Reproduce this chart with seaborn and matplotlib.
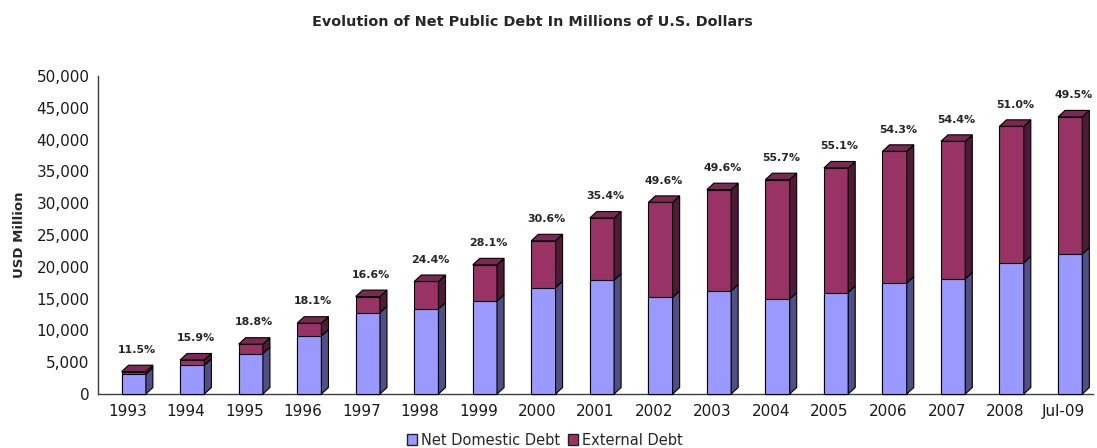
import numpy as np
import pandas as pd
import matplotlib
matplotlib.use("Agg")
import matplotlib.pyplot as plt
from matplotlib.patches import Polygon, Patch
from matplotlib.ticker import FuncFormatter, MultipleLocator
import seaborn as sns

# Net public debt, USD million
periods = ["1993", "1994", "1995", "1996", "1997", "1998", "1999", "2000", "2001",
           "2002", "2003", "2004", "2005", "2006", "2007", "2008", "Jul-09"]
total_debt = [3510, 5350, 7830, 11130, 15320, 17690, 20310, 24090, 27670,
              30130, 32130, 33700, 35540, 38160, 39730, 42090, 43570]
# share of external debt in the total, percent
external_share = [11.5, 15.9, 18.8, 18.1, 16.6, 24.4, 28.1, 30.6, 35.4,
                  49.6, 49.6, 55.7, 55.1, 54.3, 54.4, 51.0, 49.5]

df = pd.DataFrame({"period": periods, "total": total_debt, "share": external_share})
df["domestic"] = df["total"] * (1 - df["share"] / 100.0)
df["external"] = df["total"] - df["domestic"]

DOM = "#9999FF"
DOM_SIDE = "#4F4F86"
EXT = "#993366"
EXT_SIDE = "#4F1A35"
EXT_TOP = "#7A2952"
EDGE = "black"

sns.set_style("white")
plt.rcParams["font.family"] = ["DejaVu Sans"]

fig = plt.figure(figsize=(10.97, 4.48), dpi=100)
ax = fig.add_axes([98 / 1097, 54 / 448, (1093 - 98) / 1097, 318 / 448])

BAR_W = 0.415
SHIFT = 0.11          # front face sits slightly right of the category centre
DX, DY = 0.12, 1020   # depth of the pseudo-3D extrusion (x units, y units)

sns.barplot(data=df, x="period", y="total", color=EXT, saturation=1, width=BAR_W,
            edgecolor=EDGE, linewidth=0.8, errorbar=None, ax=ax, zorder=3)
sns.barplot(data=df, x="period", y="domestic", color=DOM, saturation=1, width=BAR_W,
            edgecolor=EDGE, linewidth=0.8, errorbar=None, ax=ax, zorder=3)

n = len(periods)
tot_bars = ax.patches[:n]
dom_bars = ax.patches[n:2 * n]
for p in ax.patches[:2 * n]:
    p.set_x(p.get_x() + SHIFT)
    p.set_clip_on(False)

for i, (tb, db) in enumerate(zip(tot_bars, dom_bars)):
    x, w = tb.get_x(), tb.get_width()
    ht, hd = tb.get_height(), db.get_height()
    faces = [
        ([(x + w, 0), (x + w + DX, DY), (x + w + DX, hd + DY), (x + w, hd)], DOM_SIDE),
        ([(x + w, hd), (x + w + DX, hd + DY), (x + w + DX, ht + DY), (x + w, ht)], EXT_SIDE),
        ([(x, ht), (x + DX, ht + DY), (x + w + DX, ht + DY), (x + w, ht)], EXT_TOP),
    ]
    for pts, col in faces:
        ax.add_patch(Polygon(pts, closed=True, facecolor=col, edgecolor=EDGE,
                             linewidth=0.8, zorder=3, clip_on=False))
    ax.annotate(f"{external_share[i]:.1f}%", (x + w / 2 + DX / 2, ht),
                xytext=(0, 13.5), textcoords="offset points", ha="center",
                va="baseline", fontsize=7.9, fontweight="bold", annotation_clip=False)

ax.set_xlim(-0.5, n - 0.5)
ax.set_ylim(0, 50000)
ax.yaxis.set_major_locator(MultipleLocator(5000))
ax.yaxis.set_major_formatter(FuncFormatter(lambda v, _: f"{int(v):,}"))
ax.set_xticks(np.arange(-0.5, n, 1.0), minor=True)
ax.tick_params(axis="x", which="major", length=0, pad=7, labelsize=11)
ax.tick_params(axis="x", which="minor", length=5, width=1, direction="out", color="#404040")
ax.tick_params(axis="y", which="major", length=4, width=1, direction="out", pad=2,
               labelsize=11, color="#404040")
ax.tick_params(axis="both", labelcolor="#1a1a1a")

for side in ("top", "right"):
    ax.spines[side].set_visible(False)
for side in ("left", "bottom"):
    ax.spines[side].set_color("#404040")
    ax.spines[side].set_linewidth(1)

ax.set_xlabel("")
ax.set_ylabel("USD Million", fontsize=9.5, fontweight="bold")
ax.yaxis.set_label_coords(-72 / 995, 0.5)

fig.text(532 / 1097, 1 - 22 / 448, "Evolution of Net Public Debt In Millions of U.S. Dollars",
         ha="center", va="center", fontsize=10.4, fontweight="bold")

handles = [Patch(facecolor=DOM, edgecolor="#222222", linewidth=1, label="Net Domestic Debt"),
           Patch(facecolor=EXT, edgecolor="#222222", linewidth=1, label="External Debt")]
fig.legend(handles=handles, loc="center", bbox_to_anchor=(545 / 1097, 1 - 440 / 448),
           ncol=2, frameon=False, fontsize=10.5, handlelength=0.7, handleheight=0.7,
           handletextpad=0.3, columnspacing=0.5, borderpad=0)

fig.savefig("out.png", dpi=100)
